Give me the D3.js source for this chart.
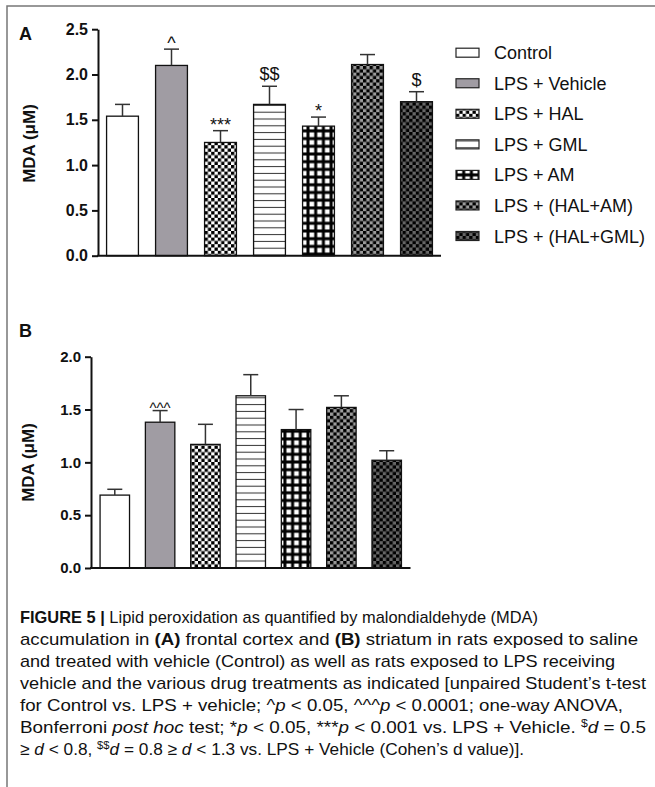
<!DOCTYPE html>
<html>
<head>
<meta charset="utf-8">
<script src="https://cdn.jsdelivr.net/npm/d3@7"></script>
<style>
  body { margin: 0; background: #fff; }
  svg { display: block; }
  text { font-family: "Liberation Sans", Arial, Helvetica, sans-serif; fill: #111; }
</style>
</head>
<body>
<svg id="fig" width="655" height="787"></svg>
<script>
///
/// Data
///
const groups = ["Control", "LPS + Vehicle", "LPS + HAL", "LPS + GML", "LPS + AM", "LPS + (HAL+AM)", "LPS + (HAL+GML)"];

// panel A, frontal cortex
const cortexMean = [1.54, 2.10, 1.25, 1.67, 1.43, 2.11, 1.70];
const cortexErr = [0.13, 0.18, 0.13, 0.20, 0.10, 0.11, 0.11];
const cortexMarks = ["", "^", "***", "$$", "*", "", "$"];
const cortexTicks = [0, 0.5, 1.0, 1.5, 2.0, 2.5];

// panel B, striatum
const striatumMean = [0.69, 1.38, 1.17, 1.63, 1.31, 1.52, 1.02];
const striatumErr = [0.055, 0.11, 0.19, 0.20, 0.19, 0.11, 0.09];
const striatumMarks = ["", "^^^", "", "", "", "", ""];
const striatumTicks = [0, 0.5, 1.0, 1.5, 2.0];

const fills = ["#ffffff", "#a09ca3", "url(#pHal)", "url(#pGml)", "url(#pAm)", "url(#pHalAm)", "url(#pHalGml)"];

const svg = d3.select("#fig");
const defs = svg.append("defs");

///
/// Patterns
///
function checker(id, a, b, s) {
  const p = defs.append("pattern").attr("id", id)
    .attr("patternUnits", "userSpaceOnUse")
    .attr("width", 2 * s).attr("height", 2 * s);
  p.append("rect").attr("width", 2 * s).attr("height", 2 * s).attr("fill", b);
  p.append("rect").attr("width", s).attr("height", s).attr("fill", a);
  p.append("rect").attr("x", s).attr("y", s).attr("width", s).attr("height", s).attr("fill", a);
}
checker("pHal", "#000", "#fff", 3.3);
checker("pHalAm", "#000", "#9c9c9c", 3.3);
checker("pHalGml", "#000", "#666", 3.3);

let pg = defs.append("pattern").attr("id", "pGml")
  .attr("patternUnits", "userSpaceOnUse").attr("width", 10).attr("height", 6.8);
pg.append("rect").attr("width", 10).attr("height", 6.8).attr("fill", "#fff");
pg.append("rect").attr("y", 2.9).attr("width", 10).attr("height", 1).attr("fill", "#333");

let pa = defs.append("pattern").attr("id", "pAm")
  .attr("patternUnits", "userSpaceOnUse").attr("width", 7.7).attr("height", 7.7);
pa.append("rect").attr("width", 7.7).attr("height", 7.7).attr("fill", "#000");
pa.append("rect").attr("x", 1.5).attr("y", 1.5).attr("width", 4.7).attr("height", 4.7).attr("fill", "#fff");

///
/// Frame
///
svg.append("path").attr("d", "M7,787V6H655")
  .attr("fill", "none").attr("stroke", "#777").attr("stroke-width", 1.5);

///
/// Panels
///
function markDy(m, panel) {
  if (m[0] == "$") return -6;
  return panel == "B" ? 2 : 0;
}

function drawPanel(c) {
  const g = svg.append("g");
  const y = d3.scaleLinear().domain([0, d3.max(c.ticks)]).range(c.yRange);
  const x = d3.scaleBand().domain(groups).range(c.xRange)
    .paddingInner(0.35).paddingOuter(c.pOuter);

  // bars
  g.selectAll("rect.bar").data(groups).join("rect")
    .attr("class", "bar")
    .attr("x", d => x(d))
    .attr("y", (d, i) => y(c.means[i]))
    .attr("width", x.bandwidth())
    .attr("height", (d, i) => y(0) - y(c.means[i]))
    .attr("fill", (d, i) => fills[i])
    .attr("stroke", "#111").attr("stroke-width", 1.3);

  // error bars, upper only
  groups.forEach((d, i) => {
    const cx = x(d) + x.bandwidth() / 2;
    const top = y(c.means[i] + c.errs[i]);
    g.append("line").attr("x1", cx).attr("x2", cx)
      .attr("y1", y(c.means[i])).attr("y2", top)
      .attr("stroke", "#333").attr("stroke-width", 1.5);
    g.append("line").attr("x1", cx - 7.5).attr("x2", cx + 7.5)
      .attr("y1", top).attr("y2", top)
      .attr("stroke", "#333").attr("stroke-width", 1.5);
    if (c.marks[i]) {
      g.append("text").attr("x", cx).attr("y", top + markDy(c.marks[i], c.label))
        .attr("text-anchor", "middle")
        .attr("font-size", c.markFont)
        .text(c.marks[i]);
    }
  });

  // y axis
  const ax = g.append("g").attr("transform", `translate(${c.xRange[0]},0)`)
    .call(d3.axisLeft(y).tickValues(c.ticks).tickFormat(d3.format(".1f"))
      .tickSize(6).tickSizeOuter(0).tickPadding(4));
  ax.select(".domain").attr("stroke", "#111").attr("stroke-width", 2);
  ax.selectAll(".tick line").attr("stroke", "#111").attr("stroke-width", 2);
  ax.selectAll(".tick text")
    .attr("font-family", "'Liberation Sans', Arial, sans-serif")
    .attr("font-weight", "bold").attr("font-size", c.tickFont).attr("fill", "#111");

  // x axis line
  g.append("line").attr("x1", c.xRange[0] - 1).attr("x2", c.xRange[1])
    .attr("y1", y(0)).attr("y2", y(0))
    .attr("stroke", "#111").attr("stroke-width", 2);

  // y title
  g.append("text")
    .attr("transform", `translate(${c.titleX},${c.titleY}) rotate(-90)`)
    .attr("text-anchor", "middle").attr("dy", "0.35em")
    .attr("font-weight", "bold").attr("font-size", 17)
    .text("MDA (μM)");

  // panel letter
  g.append("text").attr("x", 19).attr("y", c.labelY)
    .attr("font-weight", "bold").attr("font-size", 18)
    .text(c.label);
}

drawPanel({
  label: "A", labelY: 40,
  means: cortexMean, errs: cortexErr, marks: cortexMarks, ticks: cortexTicks,
  yRange: [255.7, 29.2], xRange: [98, 441], pOuter: 0.175,
  titleX: 29, titleY: 143.5, tickFont: 16, markFont: 18
});

drawPanel({
  label: "B", labelY: 337,
  means: striatumMean, errs: striatumErr, marks: striatumMarks, ticks: striatumTicks,
  yRange: [568, 356.7], xRange: [91, 410.5], pOuter: 0.2,
  titleX: 28, titleY: 462.5, tickFont: 15, markFont: 15
});

///
/// Legend
///
const legend = svg.append("g").attr("transform", "translate(456,52.7)");
groups.forEach((d, i) => {
  const row = legend.append("g").attr("transform", `translate(0,${i * 30.55})`);
  row.append("rect").attr("x", 0).attr("y", -4.5).attr("width", 23).attr("height", 9)
    .attr("fill", fills[i]).attr("stroke", "#222").attr("stroke-width", 1.2);
  row.append("text").attr("x", 38).attr("y", 6.5)
    .attr("font-size", 18).attr("fill", "#222")
    .text(d);
});

///
/// Caption
///
const captionLines = [
  [["FIGURE 5 | ", "b"], ["Lipid peroxidation as quantified by malondialdehyde (MDA)", ""]],
  [["accumulation in ", ""], ["(A)", "b"], [" frontal cortex and ", ""], ["(B)", "b"], [" striatum in rats exposed to saline", ""]],
  [["and treated with vehicle (Control) as well as rats exposed to LPS receiving", ""]],
  [["vehicle and the various drug treatments as indicated [unpaired Student’s t-test", ""]],
  [["for Control vs. LPS + vehicle; ^", ""], ["p", "i"], [" < 0.05, ^^^", ""], ["p", "i"], [" < 0.0001; one-way ANOVA,", ""]],
  [["Bonferroni ", ""], ["post hoc", "i"], [" test; *", ""], ["p", "i"], [" < 0.05, ***", ""], ["p", "i"],
   [" < 0.001 vs. LPS + Vehicle. ", ""], ["$", "sup"], ["d", "i"], [" = 0.5", ""]],
  [["≥ ", ""], ["d", "i"], [" < 0.8, ", ""], ["$$", "sup"], ["d", "i"], [" = 0.8 ≥ ", ""], ["d", "i"],
   [" < 1.3 vs. LPS + Vehicle (Cohen’s d value)].", ""]]
];
const captionEnds = [538, 638, 615, 646, 623, 646, 524];

captionLines.forEach((segs, li) => {
  const t = svg.append("text")
    .attr("x", 20).attr("y", 623 + li * 22)
    .attr("font-family", "'Liberation Sans Narrow', 'Liberation Sans', Arial, sans-serif")
    .attr("font-size", 17).attr("fill", "#222")
    .attr("textLength", captionEnds[li] - 20)
    .attr("lengthAdjust", "spacingAndGlyphs");
  let raised = false;
  segs.forEach(([s, st]) => {
    const ts = t.append("tspan").text(s);
    if (st == "b") ts.attr("font-weight", "bold");
    if (st == "i") ts.attr("font-style", "italic");
    if (st == "sup") { ts.attr("font-size", 11).attr("dy", -6); raised = true; }
    else if (raised) { ts.attr("dy", 6); raised = false; }
  });
});
</script>
</body>
</html>
